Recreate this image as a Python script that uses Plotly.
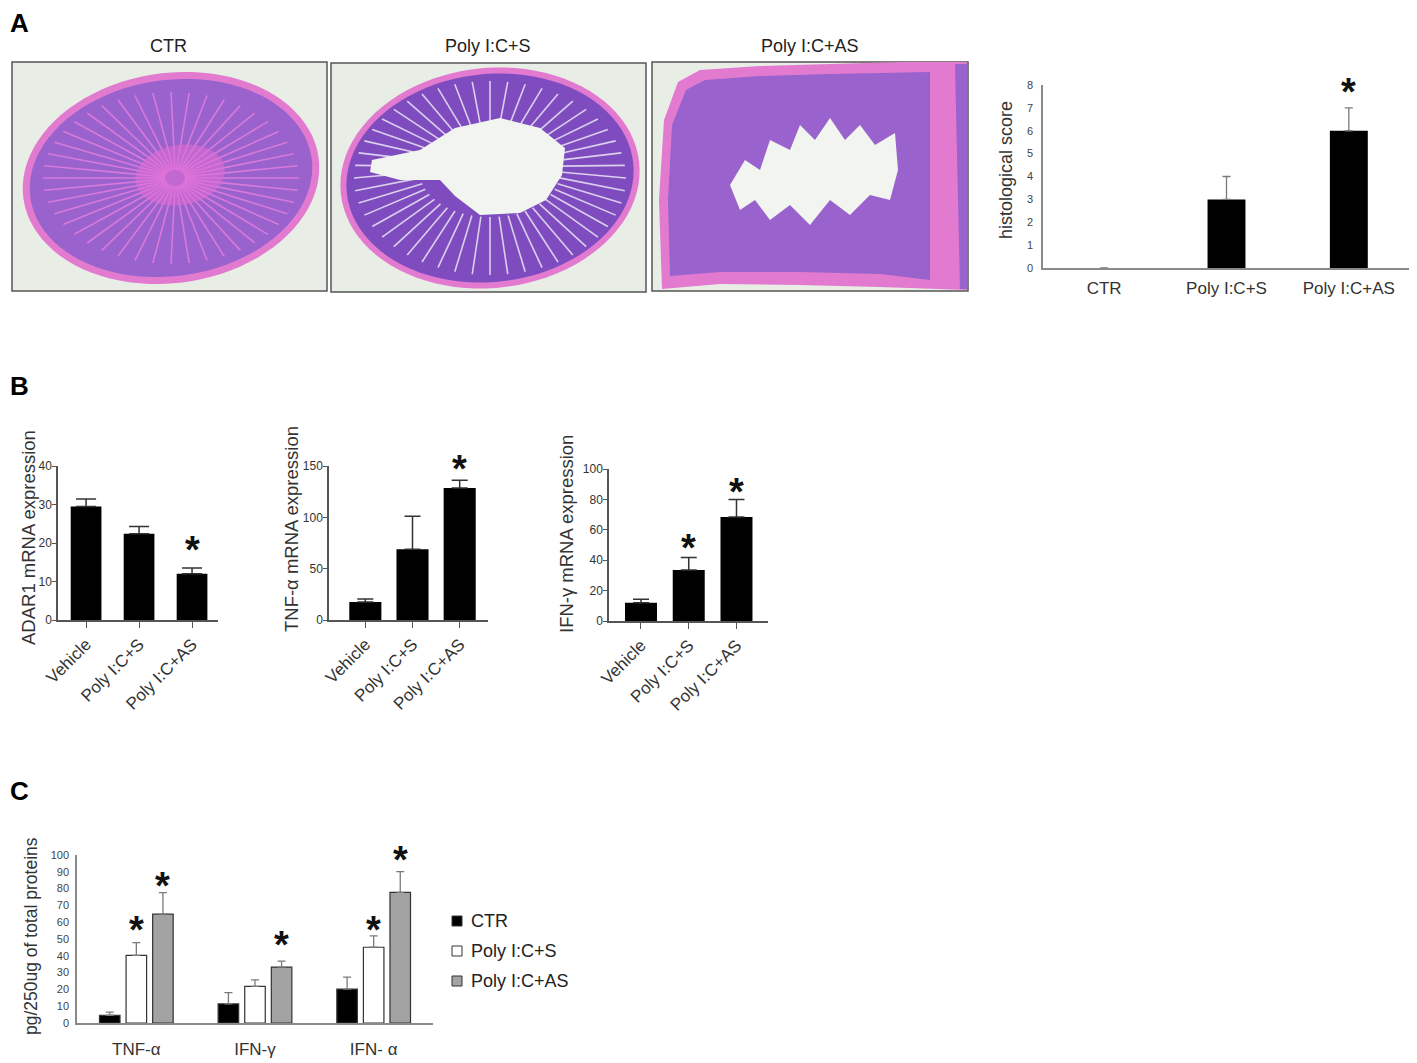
import math
import plotly.graph_objects as go

W, H = 1417, 1063
OFF = 8  # the page body adds an 8px margin; draw everything 8px up/left to compensate
FONT = "Liberation Sans, Arial, sans-serif"
NARROW = "Liberation Sans Narrow, Arial Narrow, Liberation Sans, sans-serif"

# ---- data ----
hist_groups = ["CTR", "Poly I:C+S", "Poly I:C+AS"]
hist_score = [0, 3, 6]
hist_err = [None, 1, 1]
hist_star = [None, None, 8.0]

mrna_groups = ["Vehicle", "Poly I:C+S", "Poly I:C+AS"]
adar1 = [29.5, 22.4, 12.0]
adar1_err = [1.9, 1.9, 1.5]
adar1_star = [None, None, 20.0]
tnf_mrna = [17.5, 69, 128.5]
tnf_mrna_err = [3, 32, 7.5]
tnf_mrna_star = [None, None, 154]
ifng_mrna = [12, 33.5, 68.5]
ifng_mrna_err = [2.3, 8.3, 11.5]
ifng_mrna_star = [None, 52.5, 89.5]

cyto = ["TNF-α", "IFN-γ", "IFN- α"]
series = ["CTR", "Poly I:C+S", "Poly I:C+AS"]
prot_ctr = [4.6, 11.4, 20.2]
prot_ctr_err = [1.9, 6.7, 7.1]
prot_s = [40.2, 21.8, 45.1]
prot_s_err = [7.7, 3.9, 6.8]
prot_as = [64.8, 33.3, 77.8]
prot_as_err = [12.8, 3.5, 12.3]
prot_star_s = [59.5, None, 59.5]
prot_star_as = [86.0, 50.5, 101.0]


def px(x):
    return (x - OFF) / W


def py(y):
    return 1 - (y - OFF) / H


def path(pts):
    return "M " + " L ".join(f"{px(x):.5f},{py(y):.5f}" for x, y in pts) + " Z"


def ellipse(cx, cy, rx, ry, rot=0.0, n=90):
    pts = []
    c, s = math.cos(math.radians(rot)), math.sin(math.radians(rot))
    for k in range(n):
        t = 2 * math.pi * k / n
        x, y = rx * math.cos(t), ry * math.sin(t)
        pts.append((cx + x * c - y * s, cy + x * s + y * c))
    return pts


# axis boxes in reference pixels: (x-left, x-right), (y-top, y-bottom), x range, y range
AX = {
    "": ((1043, 1410), (85, 268), [-0.5, 2.5], [0, 8]),
    "2": ((58, 218), (466, 620), [-0.53, 2.49], [0, 40]),
    "3": ((329, 488), (466, 620), [-0.77, 2.6], [0, 150]),
    "4": ((609, 768), (469, 621), [-0.67, 2.66], [0, 100]),
    "5": ((77, 433), (855, 1023), [-0.5, 2.5], [0, 100]),
}

fig = go.Figure()

# ---------- panel A bar chart ----------
fig.add_trace(go.Bar(
    x=hist_groups, y=hist_score, width=0.31, marker=dict(color="black", line=dict(width=0)),
    error_y=dict(type="data", symmetric=False, array=hist_err, arrayminus=[0, 0, 0],
                 color="#7a7a7a", thickness=1.3, width=4),
    xaxis="x", yaxis="y", showlegend=False))

# ---------- panel B bar charts ----------
for i, (vals, errs) in enumerate([(adar1, adar1_err), (tnf_mrna, tnf_mrna_err),
                                  (ifng_mrna, ifng_mrna_err)]):
    ax = str(i + 2)
    fig.add_trace(go.Bar(
        x=mrna_groups, y=vals, width=[0.58, 0.68, 0.67][i],
        marker=dict(color="black", line=dict(width=0)),
        error_y=dict(type="data", symmetric=False, array=errs, arrayminus=[0, 0, 0],
                     color="#333333", thickness=1.5, width=[10, 8, 8][i]),
        xaxis="x" + ax, yaxis="y" + ax, showlegend=False))

# ---------- panel C grouped bars ----------
bw = 0.173
fills = ["black", "white", "#a3a3a3"]
for j, (vals, errs) in enumerate([(prot_ctr, prot_ctr_err), (prot_s, prot_s_err),
                                  (prot_as, prot_as_err)]):
    fig.add_trace(go.Bar(
        x=cyto, y=vals, width=bw, offset=(j - 1) * 0.224 - bw / 2, name=series[j],
        marker=dict(color=fills[j], line=dict(color="#333333", width=1.2)),
        error_y=dict(type="data", symmetric=False, array=errs, arrayminus=[0, 0, 0],
                     color="#7a7a7a", thickness=1.3, width=4),
        xaxis="x5", yaxis="y5", showlegend=False))

ann = []
shapes = []


def star(n, ys, dx=0.0):
    # star position converted to paper units so stars above the range stay visible
    (xl, xr), (yt, yb), xrng, yrng = AX[n]
    for k, yv in enumerate(ys):
        if yv is None:
            continue
        xpix = xl + (k + dx - xrng[0]) / (xrng[1] - xrng[0]) * (xr - xl)
        ypix = yb - (yv - yrng[0]) / (yrng[1] - yrng[0]) * (yb - yt)
        ann.append(dict(x=px(xpix), y=py(ypix), xref="paper", yref="paper",
                        xanchor="center", yanchor="middle", text="<b>*</b>", showarrow=False,
                        font=dict(size=38, color="#111", family=FONT), yshift=-7))


star("", hist_star)
star("2", adar1_star)
star("3", tnf_mrna_star)
star("4", ifng_mrna_star)
star("5", prot_star_s)
star("5", prot_star_as, dx=0.224)


def label(x, y, text, size=16, angle=0, color="#222", family=FONT, bold=False,
          xanchor="center"):
    ann.append(dict(x=px(x), y=py(y), xref="paper", yref="paper", showarrow=False,
                    text=f"<b>{text}</b>" if bold else text, textangle=angle,
                    font=dict(size=size, color=color, family=family),
                    xanchor=xanchor, yanchor="middle"))


# panel letters (kept inside the visible page edge)
label(8, 23, "A", 26, family=NARROW, bold=True, color="black", xanchor="left")
label(8, 386, "B", 26, family=NARROW, bold=True, color="black", xanchor="left")
label(8, 791, "C", 26, family=NARROW, bold=True, color="black", xanchor="left")

# histology titles
label(168, 46, "CTR", 18)
label(488, 46, "Poly I:C+S", 18)
label(810, 46, "Poly I:C+AS", 18)

# axis titles
label(1006, 170, "histological score", 18, -90, "#333")
label(28, 538, "ADAR1 mRNA expression", 18.5, -90, "#333")
label(291, 529, "TNF-α mRNA expression", 18.5, -90, "#333")
label(566, 534, "IFN-γ mRNA expression", 18.5, -90, "#333")
label(31, 936, "pg/250ug of total proteins", 17.5, -90, "#333")

# legend for panel C
for j, name in enumerate(series):
    yc = 921 + 30 * j
    shapes.append(dict(type="rect", xref="paper", yref="paper",
                       x0=px(452), x1=px(462), y0=py(yc + 5), y1=py(yc - 5),
                       fillcolor=fills[j], line=dict(color="#333", width=1)))
    ann.append(dict(x=px(469), y=py(yc), xref="paper", yref="paper", text=name,
                    showarrow=False, xanchor="left", yanchor="middle",
                    font=dict(size=18, color="#222", family=FONT)))

# ---------- histology panels (drawn, not data) ----------
BG = "#e8ede5"
PINK = "#e27ad0"
PURPLE = "#9a62cc"
LUMEN = "#f1f4ef"


def add_shape_path(p, fill, line_color=None, lw=0, opacity=1.0):
    shapes.append(dict(type="path", path=p, xref="paper", yref="paper", fillcolor=fill,
                       opacity=opacity, layer="above",
                       line=dict(color=line_color or fill, width=lw)))


def add_line(x0, y0, x1, y1, color, width):
    shapes.append(dict(type="line", xref="paper", yref="paper", x0=px(x0), y0=py(y0),
                       x1=px(x1), y1=py(y1), layer="above", line=dict(color=color, width=width)))


frames = [(12, 62, 327, 291), (331, 63, 646, 292), (652, 62, 968, 291)]
for x0, y0, x1, y1 in frames:
    shapes.append(dict(type="rect", xref="paper", yref="paper", x0=px(x0), x1=px(x1),
                       y0=py(y1), y1=py(y0), fillcolor=BG, layer="above",
                       line=dict(color="#555", width=1.5)))

# panel 1: whole mucosa with radial villi
add_shape_path(path(ellipse(171, 178, 149, 105, -8)), PINK)
add_shape_path(path(ellipse(171, 178, 142, 98, -8)), PURPLE)
for k in range(44):
    t = 2 * math.pi * k / 44
    add_line(175 + 10 * math.cos(t), 178 + 8 * math.sin(t),
             171 + 128 * math.cos(t), 178 + 86 * math.sin(t), "rgba(236,130,226,0.75)", 1.6)
add_shape_path(path(ellipse(180, 175, 45, 30, -10)), "rgba(226,110,214,0.55)")

# panel 2: ring with central lumen
add_shape_path(path(ellipse(490, 178, 150, 110, -6)), PINK)
add_shape_path(path(ellipse(490, 178, 144, 104, -6)), "#7f4cc0")
for k in range(48):
    t = 2 * math.pi * k / 48
    add_line(490 + 70 * math.cos(t), 172 + 45 * math.sin(t),
             490 + 136 * math.cos(t), 178 + 97 * math.sin(t), "rgba(235,230,245,0.85)", 1.6)
lumen2 = [(372, 160), (420, 150), (455, 128), (500, 118), (540, 128), (565, 148), (562, 175),
          (546, 200), (520, 213), (480, 215), (455, 196), (440, 180), (400, 180), (370, 172)]
add_shape_path(path(lumen2), LUMEN)

# panel 3: swollen mucosa with jagged lumen
outer3 = [(662, 289), (659, 200), (664, 120), (678, 82), (700, 70), (760, 66), (830, 64),
          (900, 62), (967, 62), (967, 290), (880, 287), (800, 285), (720, 284)]
inner3 = [(670, 276), (668, 200), (672, 125), (686, 90), (705, 80), (760, 76), (830, 74),
          (930, 72), (930, 280), (880, 274), (800, 272), (720, 272)]
add_shape_path(path(outer3), PINK)
add_shape_path(path(inner3), PURPLE)
add_shape_path(path([(955, 64), (967, 64), (967, 289), (960, 289)]), PURPLE)
lumen3 = [(730, 185), (745, 160), (760, 170), (770, 140), (790, 150), (800, 125), (815, 140),
          (830, 118), (845, 140), (860, 125), (875, 145), (895, 133), (898, 170), (890, 200),
          (870, 195), (850, 215), (830, 200), (810, 225), (790, 205), (770, 220), (755, 200),
          (740, 210)]
add_shape_path(path(lumen3), LUMEN)

fig.update_layout(shapes=shapes, annotations=ann)

# ---------- axes ----------
GREY = "#8a8a8a"


def xdom(n):
    a, b = AX[n][0]
    return [px(a), px(b)]


def ydom(n):
    top, bottom = AX[n][1]
    return [py(bottom), py(top)]


fig.update_layout(
    width=W, height=H, margin=dict(l=0, r=0, t=0, b=0, autoexpand=False),
    paper_bgcolor="white", plot_bgcolor="white", font=dict(family=FONT, color="#333"),
    showlegend=False,
    xaxis=dict(domain=xdom(""), range=AX[""][2], showline=True, linecolor=GREY,
               linewidth=1.5, ticks="", tickfont=dict(size=17, color="#333"), showgrid=False,
               ticklabelstandoff=4, anchor="y"),
    yaxis=dict(domain=ydom(""), range=AX[""][3], dtick=1, showline=True, linecolor=GREY,
               linewidth=1.5, ticks="outside", ticklen=6, tickcolor="rgba(0,0,0,0)",
               tickfont=dict(size=11, color="#444"), showgrid=False, zeroline=False,
               anchor="x"),
    xaxis5=dict(domain=xdom("5"), range=AX["5"][2], showline=True, linecolor=GREY,
                linewidth=1.5, ticks="", tickfont=dict(size=17, color="#333"), showgrid=False,
                ticklabelstandoff=10, anchor="y5"),
    yaxis5=dict(domain=ydom("5"), range=AX["5"][3], dtick=10, showline=True,
                linecolor=GREY, linewidth=1.5, ticks="outside", ticklen=4,
                tickcolor="rgba(0,0,0,0)", tickfont=dict(size=11, color="#444"),
                showgrid=False, zeroline=False, anchor="x5"),
)

for n, dt in [("2", 10), ("3", 50), ("4", 20)]:
    fig.update_layout({
        f"xaxis{n}": dict(domain=xdom(n), range=AX[n][2], showline=True, linecolor="#555",
                          linewidth=1.5, ticks="outside", ticklen=6, tickcolor="#555",
                          tickangle=-45, tickfont=dict(size=17, color="#333"),
                          showgrid=False, anchor=f"y{n}"),
        f"yaxis{n}": dict(domain=ydom(n), range=AX[n][3], dtick=dt, showline=True,
                          linecolor="#555", linewidth=1.5, ticks="outside", ticklen=4,
                          tickcolor="#555", tickfont=dict(size=12, color="#333"),
                          ticklabelstandoff=-2, showgrid=False, zeroline=False,
                          anchor=f"x{n}"),
    })

fig.write_html("out.html")
